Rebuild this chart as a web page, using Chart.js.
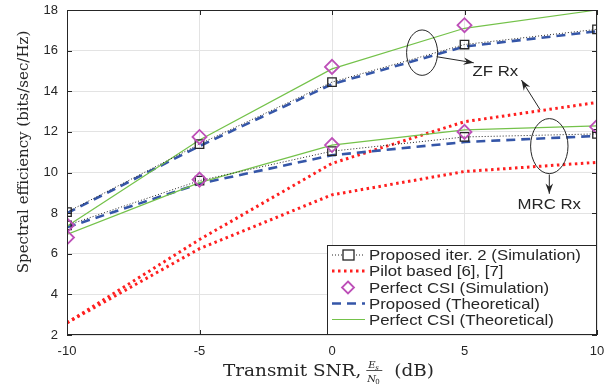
<!DOCTYPE html>
<html>
<head>
<meta charset="utf-8">
<script src="https://cdn.jsdelivr.net/npm/chart.js@4.4.1/dist/chart.umd.min.js"></script>
<style>
  html, body { margin: 0; padding: 0; background: #fff; }
  canvas { display: block; }
</style>
</head>
<body>
<canvas id="chart" width="613" height="386"></canvas>
<script>
// transmit SNR (dB)
const snr = [-10, -5, 0, 5, 10];

// spectral efficiency, bits/sec/Hz
const zfProposedSim = [8.05, 11.4, 14.45, 16.3, 17.05];
const mrcProposedSim = [7.4, 9.6, 11.05, 11.75, 11.9];
const zfPilot = [2.6, 6.7, 10.45, 12.5, 13.45];
const mrcPilot = [2.6, 6.25, 8.9, 10.05, 10.5];
const zfPerfectSim = [7.4, 11.75, 15.2, 17.25, null];
const mrcPerfectSim = [6.8, 9.65, 11.35, 12.0, 12.25];
const zfProposedTheo = [8.0, 11.3, 14.35, 16.2, 16.95];
const mrcProposedTheo = [7.3, 9.45, 10.85, 11.5, 11.8];
const zfPerfectTheo = [7.35, 11.6, 15.1, 17.1, 18.0];
const mrcPerfectTheo = [6.95, 9.5, 11.35, 12.1, 12.3];

const xTicks = [-10, -5, 0, 5, 10];
const yTicks = [2, 4, 6, 8, 10, 12, 14, 16, 18];

const legendNames = [
    'Proposed iter. 2 (Simulation)',
    'Pilot based [6], [7]',
    'Perfect CSI (Simulation)',
    'Proposed (Theoretical)',
    'Perfect CSI (Theoretical)'
];

const BLACK = '#262626';
const RED = '#ff1f1f';
const MAGENTA = '#bd4fb8';
const BLUE = '#3556a8';
const GREEN = '#74c24a';
const SANS = '"Liberation Sans", Arial, sans-serif';
const SERIF = '"DejaVu Serif", "Liberation Serif", serif';

function pts(ys) {
    return snr.map((x, i) => ({ x: x, y: ys[i] }));
}

const styles = {
    sim: { borderColor: BLACK, borderWidth: 1, borderDash: [1, 2], pointStyle: 'rect', pointRadius: 6,
           pointBorderColor: BLACK, pointBackgroundColor: 'rgba(0,0,0,0)', pointBorderWidth: 1.3, order: 1 },
    pilot: { borderColor: RED, borderWidth: 3, borderDash: [2.5, 3.5], pointRadius: 0, order: 4 },
    perfSim: { showLine: false, pointStyle: 'rectRot', pointRadius: 7, pointBorderColor: MAGENTA,
               pointBackgroundColor: 'rgba(0,0,0,0)', pointBorderWidth: 1.8, order: 0 },
    theo: { borderColor: BLUE, borderWidth: 2.6, borderDash: [9, 6], pointRadius: 0, order: 3 },
    perfTheo: { borderColor: GREEN, borderWidth: 1.2, pointRadius: 0, order: 2 }
};

function ds(ys, style) {
    return Object.assign({ data: pts(ys), fill: false, tension: 0, spanGaps: false }, styles[style]);
}

const datasets = [
    ds(zfProposedSim, 'sim'), ds(mrcProposedSim, 'sim'),
    ds(zfPilot, 'pilot'), ds(mrcPilot, 'pilot'),
    ds(zfPerfectSim, 'perfSim'), ds(mrcPerfectSim, 'perfSim'),
    ds(zfProposedTheo, 'theo'), ds(mrcProposedTheo, 'theo'),
    ds(zfPerfectTheo, 'perfTheo'), ds(mrcPerfectTheo, 'perfTheo')
];

// text drawn a bit wider than the font, returns the drawn width
function wideText(ctx, text, x, y, sx) {
    ctx.save();
    ctx.translate(x, y);
    ctx.scale(sx, 1);
    ctx.fillText(text, 0, 0);
    ctx.restore();
    return ctx.measureText(text).width * sx;
}

// box, inward ticks, annotations, legend and axis titles
const decorations = {
    id: 'decorations',
    afterDraw(chart) {
        const ctx = chart.ctx;
        const a = chart.chartArea;
        const xs = chart.scales.x, ys = chart.scales.y;
        ctx.save();

        ctx.strokeStyle = BLACK;
        ctx.lineWidth = 1;
        ctx.setLineDash([]);
        ctx.strokeRect(a.left + 0.5, a.top + 0.5, a.right - a.left - 1, a.bottom - a.top - 1);
        ctx.beginPath();
        xTicks.forEach(v => {
            const px = Math.round(xs.getPixelForValue(v)) + 0.5;
            ctx.moveTo(px, a.bottom); ctx.lineTo(px, a.bottom - 5);
            ctx.moveTo(px, a.top); ctx.lineTo(px, a.top + 5);
        });
        yTicks.forEach(v => {
            const py = Math.round(ys.getPixelForValue(v)) + 0.5;
            ctx.moveTo(a.left, py); ctx.lineTo(a.left + 5, py);
            ctx.moveTo(a.right, py); ctx.lineTo(a.right - 5, py);
        });
        ctx.stroke();

        // ellipses + arrows
        const X = v => xs.getPixelForValue(v), Y = v => ys.getPixelForValue(v);
        function arrow(x1, y1, x2, y2) {
            const ang = Math.atan2(y2 - y1, x2 - x1);
            ctx.beginPath();
            ctx.moveTo(x1, y1); ctx.lineTo(x2, y2);
            ctx.stroke();
            ctx.beginPath();
            ctx.moveTo(x2, y2);
            ctx.lineTo(x2 - 11 * Math.cos(ang - 0.35), y2 - 11 * Math.sin(ang - 0.35));
            ctx.lineTo(x2 - 7 * Math.cos(ang), y2 - 7 * Math.sin(ang));
            ctx.lineTo(x2 - 11 * Math.cos(ang + 0.35), y2 - 11 * Math.sin(ang + 0.35));
            ctx.closePath();
            ctx.fill();
        }
        ctx.strokeStyle = BLACK;
        ctx.fillStyle = BLACK;
        ctx.lineWidth = 1;
        ctx.beginPath();
        ctx.ellipse(X(3.4), Y(15.9), 15.5, 22.7, 0, 0, Math.PI * 2);
        ctx.stroke();
        ctx.beginPath();
        ctx.ellipse(X(8.2), Y(11.3), 18.7, 27.5, 0, 0, Math.PI * 2);
        ctx.stroke();
        arrow(X(3.95), Y(15.7), X(5.35), Y(15.4));
        arrow(X(7.85), Y(13.1), X(7.15), Y(14.55));
        arrow(X(8.2), Y(9.9), X(8.2), Y(8.95));

        ctx.font = '15px ' + SANS;
        ctx.textBaseline = 'middle';
        ctx.textAlign = 'left';
        wideText(ctx, 'ZF Rx', X(5.3), Y(14.95), 1.12);
        wideText(ctx, 'MRC Rx', X(7.0), Y(8.4), 1.12);

        // legend
        const lx = 327, ly = 245, lw = 270, lh = 90;
        ctx.fillStyle = '#fff';
        ctx.fillRect(lx, ly, lw, lh);
        ctx.strokeStyle = BLACK;
        ctx.strokeRect(lx + 0.5, ly + 0.5, lw - 1, lh - 1);
        const rows = [255, 271, 287.5, 303.5, 319.5];
        const keys = ['sim', 'pilot', 'perfSim', 'theo', 'perfTheo'];
        ctx.font = '15px ' + SANS;
        keys.forEach((k, i) => {
            const s = styles[k], y = rows[i];
            if (s.showLine !== false) {
                ctx.strokeStyle = s.borderColor;
                ctx.lineWidth = s.borderWidth;
                ctx.setLineDash(s.borderDash || []);
                ctx.beginPath();
                ctx.moveTo(332, y); ctx.lineTo(365, y);
                ctx.stroke();
            }
            ctx.setLineDash([]);
            if (s.pointRadius) {
                ctx.lineWidth = s.pointBorderWidth;
                ctx.strokeStyle = s.pointBorderColor;
                if (s.pointStyle === 'rect') {
                    ctx.fillStyle = '#fff';
                    ctx.fillRect(343, y - 5, 11, 10);
                    ctx.strokeRect(343, y - 5, 11, 10);
                } else {
                    ctx.beginPath();
                    ctx.moveTo(348, y - 6); ctx.lineTo(354, y); ctx.lineTo(348, y + 6); ctx.lineTo(342, y);
                    ctx.closePath();
                    ctx.stroke();
                }
            }
            ctx.fillStyle = BLACK;
            wideText(ctx, legendNames[i], 369, y + 1, 1.12);
        });

        // y-axis title
        ctx.fillStyle = BLACK;
        ctx.save();
        ctx.translate(24, 152);
        ctx.rotate(-Math.PI / 2);
        ctx.font = '15px ' + SERIF;
        ctx.textAlign = 'center';
        ctx.textBaseline = 'middle';
        ctx.fillText('Spectral efficiency (bits/sec/Hz)', 0, 0);
        ctx.restore();

        // x-axis title with Es/N0 fraction
        ctx.textBaseline = 'alphabetic';
        ctx.textAlign = 'left';
        const cy = 376;
        let tx = 223;
        ctx.font = '16px ' + SERIF;
        tx += wideText(ctx, 'Transmit SNR,', tx, cy, 1.15) + 5;
        ctx.font = 'italic 10px ' + SERIF;
        ctx.fillText('E', tx + 2, cy - 8);
        ctx.font = 'italic 7px ' + SERIF;
        ctx.fillText('s', tx + 9, cy - 6);
        ctx.font = 'italic 10px ' + SERIF;
        ctx.fillText('N', tx + 1, cy + 6);
        ctx.font = '7px ' + SERIF;
        ctx.fillText('0', tx + 9, cy + 8);
        ctx.lineWidth = 0.8;
        ctx.strokeStyle = BLACK;
        ctx.beginPath();
        ctx.moveTo(tx, cy - 5.5); ctx.lineTo(tx + 16, cy - 5.5);
        ctx.stroke();
        ctx.font = '16px ' + SERIF;
        wideText(ctx, '(dB)', tx + 28, cy, 1.15);

        ctx.restore();
    }
};

new Chart(document.getElementById('chart'), {
    type: 'line',
    data: { datasets: datasets },
    options: {
        responsive: false,
        animation: false,
        devicePixelRatio: 1,
        layout: { padding: { left: 0, right: 16, top: 10, bottom: 0 } },
        plugins: { legend: { display: false }, tooltip: { enabled: false } },
        scales: {
            x: {
                type: 'linear', min: -10, max: 10,
                afterBuildTicks: s => { s.ticks = xTicks.map(v => ({ value: v })); },
                afterFit: s => { s.height = 51; s.paddingLeft = 0; s.paddingRight = 0; },
                ticks: { color: BLACK, padding: 9, font: { family: 'Liberation Sans', size: 13 } },
                grid: { color: '#e3e3e3', lineWidth: 1, drawTicks: false },
                border: { display: false }
            },
            y: {
                min: 2, max: 18,
                afterBuildTicks: s => { s.ticks = yTicks.map(v => ({ value: v })); },
                afterFit: s => { s.width = 67; s.paddingTop = 0; s.paddingBottom = 0; },
                ticks: { color: BLACK, padding: 9, font: { family: 'Liberation Sans', size: 13 } },
                grid: { color: '#e3e3e3', lineWidth: 1, drawTicks: false },
                border: { display: false }
            }
        }
    },
    plugins: [decorations]
});
</script>
</body>
</html>
